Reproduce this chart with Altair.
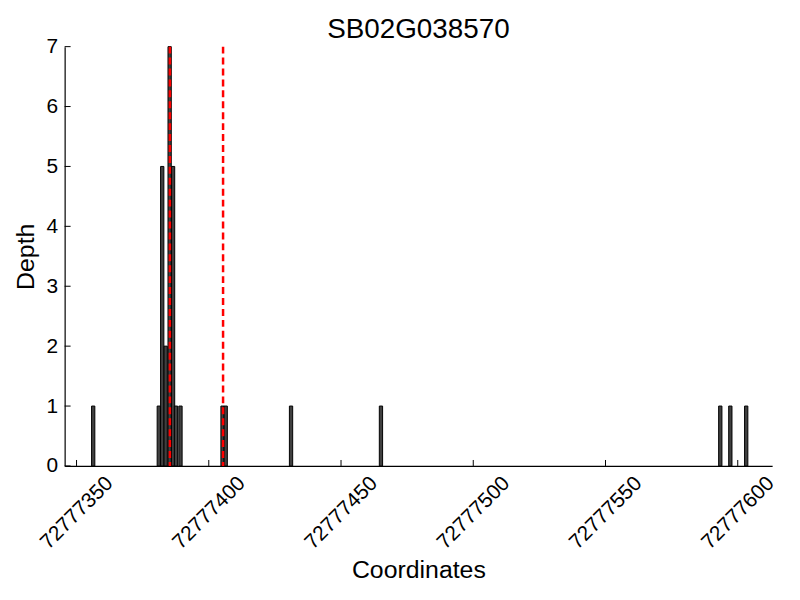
import altair as alt
import pandas as pd

# ---- data ----
chart_title = "SB02G038570"
positions = [72777356.3, 72777381.1, 72777382.4, 72777383.7, 72777385.2, 72777386.5,
             72777387.6, 72777389.3, 72777405.2, 72777406.4, 72777431.1, 72777465.1,
             72777593.4, 72777597.2, 72777603.2]
depths = [1, 1, 5, 2, 7, 5, 1, 1, 1, 1, 1, 1, 1, 1, 1]
gene_bounds = [72777385.3, 72777405.4]
x_ticks = [72777350, 72777400, 72777450, 72777500, 72777550, 72777600]
y_ticks = [0, 1, 2, 3, 4, 5, 6, 7]
x_domain = [72777345.5, 72777613]
y_domain = [0, 7]

# ---- style ----
FONT = "Liberation Sans"
W, H = 712, 422
BIN = 1.24
TICK = 6

xscale = alt.Scale(domain=x_domain, nice=False, zero=False)
yscale = alt.Scale(domain=y_domain, nice=False)

x_axis = alt.Axis(values=x_ticks, format="d", labelAngle=-45,
                  labelAlign="center", labelBaseline="middle",
                  labelPadding=47, tickSize=0, grid=False,
                  domainColor="black", domainWidth=1.2,
                  labelFont=FONT, labelFontSize=21, labelColor="black",
                  titleFont=FONT, titleFontSize=25,
                  titleFontWeight="normal", titleColor="black",
                  titlePadding=5, labelOverlap=False, labelFlush=False)
y_axis = alt.Axis(values=y_ticks, format="d", tickSize=0, grid=False,
                  domainColor="black", domainWidth=1.2,
                  labelFont=FONT, labelFontSize=21, labelColor="black",
                  labelPadding=7,
                  titleFont=FONT, titleFontSize=25,
                  titleFontWeight="normal", titleColor="black",
                  titlePadding=8)

bars_df = pd.DataFrame({"pos": positions, "depth": depths})

bars = (
    alt.Chart(bars_df)
    .transform_calculate(x0=f"datum.pos - {BIN/2}", x1=f"datum.pos + {BIN/2}", base="0")
    .mark_bar(fill="#404040", stroke="black", strokeWidth=1)
    .encode(
        x=alt.X("x0:Q", scale=xscale, axis=x_axis, title="Coordinates"),
        x2="x1:Q",
        y=alt.Y("depth:Q", scale=yscale, axis=y_axis, title="Depth"),
        y2="base:Q",
    )
)

gene = (
    alt.Chart(pd.DataFrame({"g": gene_bounds}))
    .mark_rule(color="red", strokeWidth=2.5, strokeDash=[7, 4])
    .encode(x=alt.X("g:Q", scale=xscale, title="Coordinates"))
)

ytick_marks = (
    alt.Chart(pd.DataFrame({"v": y_ticks}))
    .mark_rule(color="black", strokeWidth=1)
    .encode(y=alt.Y("v:Q", scale=yscale, title="Depth"), x=alt.value(0), x2=alt.value(TICK))
)

xtick_marks = (
    alt.Chart(pd.DataFrame({"v": x_ticks}))
    .mark_rule(color="black", strokeWidth=1)
    .encode(x=alt.X("v:Q", scale=xscale, title="Coordinates"), y=alt.value(H), y2=alt.value(H - TICK))
)

chart = (
    alt.layer(bars, gene, ytick_marks, xtick_marks)
    .properties(
        width=W, height=H,
        title=alt.TitleParams(chart_title, font=FONT, fontSize=28, fontWeight="normal",
                              color="black", anchor="middle", offset=-8),
        autosize=alt.AutoSizeParams(type="none"),
        padding={"left": 57, "top": 37, "right": 20, "bottom": 130},
        view=alt.ViewBackground(stroke="transparent", strokeWidth=0),
    )
    .configure_view(stroke="transparent", strokeWidth=0)
    .configure(background="white")
)

chart.save("out.html", embed_options={"renderer": "svg", "actions": False})
